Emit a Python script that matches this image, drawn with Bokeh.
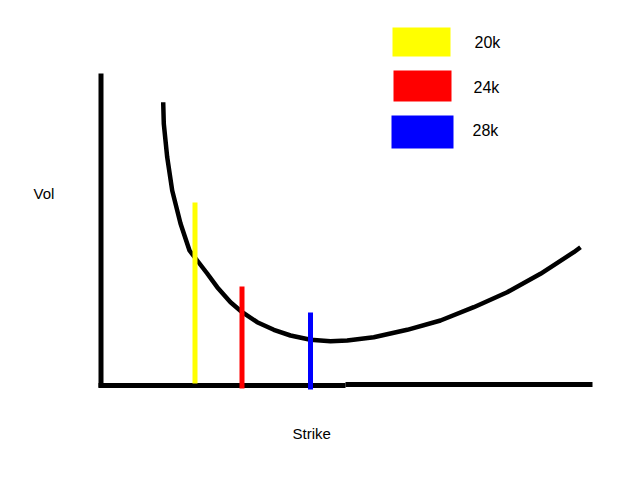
from bokeh.plotting import figure
from bokeh.models import Range1d
from bokeh.core.properties import value
from bokeh.embed import file_html
from bokeh.resources import INLINE

# Smile curve (strike position, vol level)
curve_strike = [62.7, 63.3, 66.7, 71.7, 80, 89, 96.7, 106.7, 116.7, 130, 141.7, 156.7, 173.3,
                190, 210, 230, 246.7, 273.3, 306.7, 340, 373.3, 406.7, 440, 473.3, 480]
curve_vol = [283.3, 261.7, 228.3, 195, 162, 135, 125, 112, 98.3, 83.3, 73.3, 63.3, 55.7,
             50, 45.7, 44.3, 45, 48.3, 55.7, 65, 78.3, 93.3, 111.7, 133.3, 138.3]

# Vertical markers for each notional
marker_labels = ["20k", "24k", "28k"]
marker_colors = ["#ffff00", "#ff0000", "#0000ff"]
marker_strike = [94.5, 141.5, 210]
marker_top = [183, 99, 73]
marker_bottom = [2, -3, -4]

# Legend boxes
legend_left = [292, 293, 291]
legend_right = [350, 351, 353]
legend_top = [358, 315, 270]
legend_bottom = [329, 284, 237]
legend_text_x = [374, 373, 372]
legend_text_y = [343, 298, 255]

p = figure(width=624, height=464, output_backend="svg", toolbar_location=None,
           x_range=Range1d(-100, 524), y_range=Range1d(-79, 385),
           min_border=0, min_border_left=0, min_border_right=0,
           min_border_top=0, min_border_bottom=0)
p.axis.visible = False
p.grid.visible = False
p.outline_line_color = None
p.background_fill_color = "white"
p.border_fill_color = "white"

# hand-drawn axes
p.segment(x0=[0.5], y0=[312], x1=[0.5], y1=[-2], line_color="black", line_width=5)
p.segment(x0=[-2, 245], y0=[0, 1], x1=[245, 492], y1=[0, 1], line_color="black", line_width=5)

# curve
p.line(curve_strike, curve_vol, line_color="black", line_width=4.5, line_join="round", line_cap="butt")

# markers
p.segment(x0=marker_strike, y0=marker_bottom, x1=marker_strike, y1=marker_top,
          line_color=marker_colors, line_width=5)

# legend
p.quad(left=legend_left, right=legend_right, top=legend_top, bottom=legend_bottom,
       fill_color=marker_colors, line_color=None)
p.text(x=legend_text_x, y=legend_text_y, text=marker_labels, text_font=value("Liberation Sans"),
       text_font_size="16px", text_align="left", text_baseline="middle", text_color="black")

p.text(x=[-67], y=[192], text=["Vol"], text_font=value("Liberation Sans"),
       text_font_size="15px", text_align="left", text_baseline="middle", text_color="black")
p.text(x=[192], y=[-48], text=["Strike"], text_font=value("Liberation Sans"),
       text_font_size="15px", text_align="left", text_baseline="middle", text_color="black")

open("out.html", "w").write(file_html(p, INLINE))
